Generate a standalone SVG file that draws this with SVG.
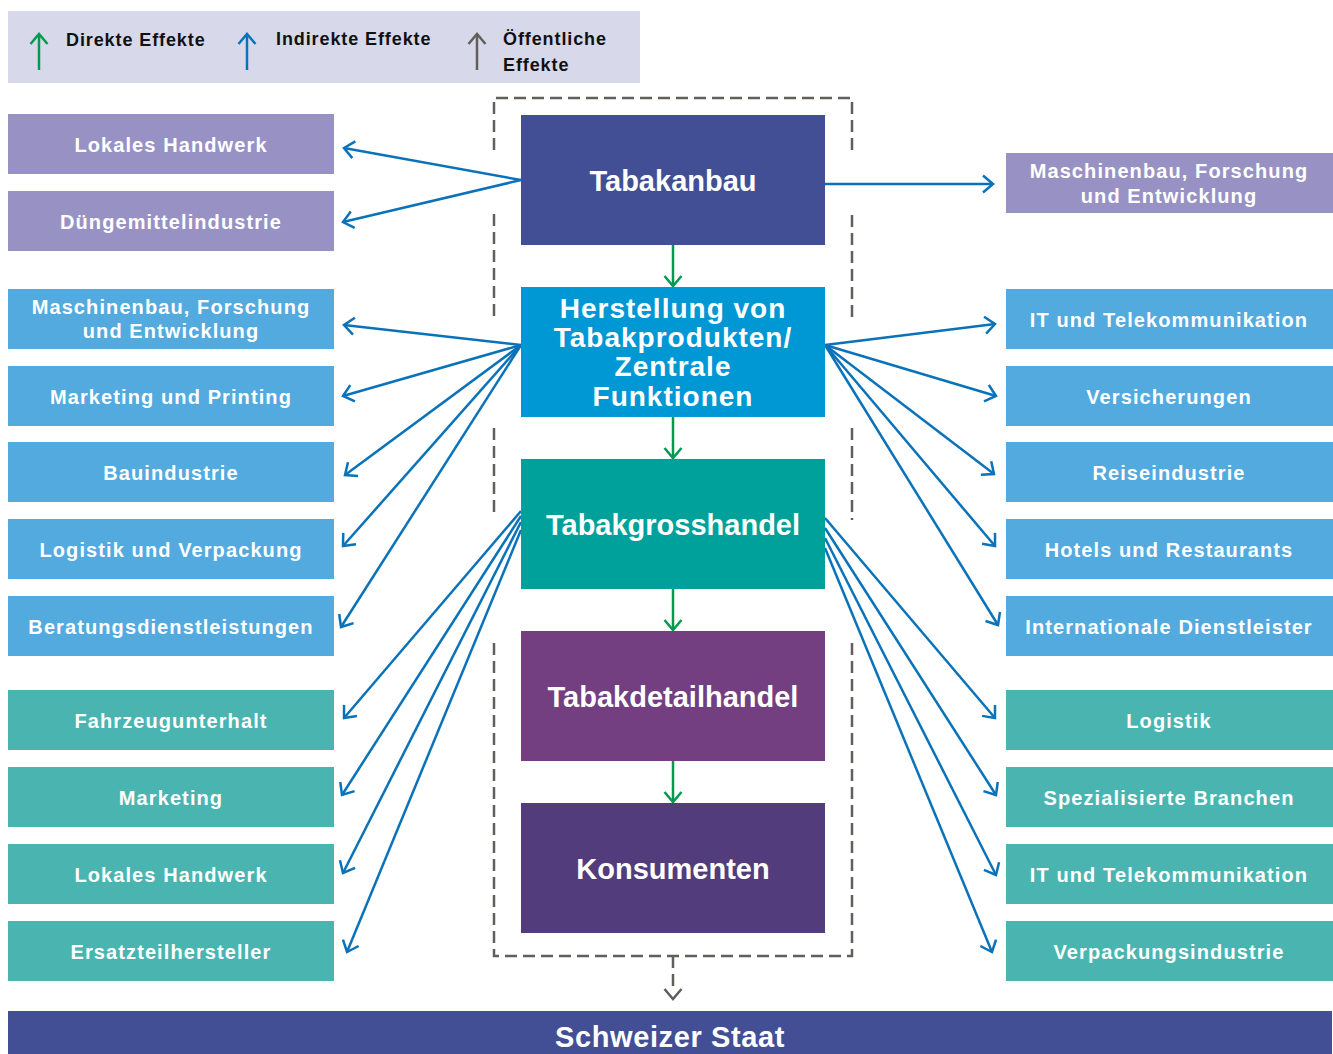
<svg xmlns="http://www.w3.org/2000/svg" width="1333" height="1054" viewBox="0 0 1333 1054">
<defs>
<style>
.side{font-family:"Liberation Sans",Arial,sans-serif;font-weight:bold;font-size:20px;letter-spacing:1.1px;fill:#fff;text-anchor:middle}
.main{font-family:"Liberation Sans",Arial,sans-serif;font-weight:bold;font-size:29px;fill:#fff;text-anchor:middle}
.leg{font-family:"Liberation Sans",Arial,sans-serif;font-weight:bold;font-size:18px;letter-spacing:0.9px;fill:#111}
.pu{fill:#9892c4}.bl{fill:#52aadf}.te{fill:#4ab5b0}
.ind{stroke:#0a72b9;stroke-width:2.5;fill:none;marker-end:url(#mb)}
.dir{stroke:#009b4f;stroke-width:2.5;fill:none;marker-end:url(#mg)}
.dash{stroke:#625f5a;stroke-width:2.5;fill:none;stroke-dasharray:12 6}
</style>
<marker id="mb" markerUnits="userSpaceOnUse" markerWidth="30" markerHeight="30" refX="0" refY="0" viewBox="-15 -15 30 30" orient="auto"><path d="M-10,-8.5 L0,0 L-10,8.5" fill="none" stroke="#0a72b9" stroke-width="2.5"/></marker>
<marker id="mg" markerUnits="userSpaceOnUse" markerWidth="30" markerHeight="30" refX="0" refY="0" viewBox="-15 -15 30 30" orient="auto"><path d="M-10,-8.5 L0,0 L-10,8.5" fill="none" stroke="#009b4f" stroke-width="2.5"/></marker>
<marker id="mk" markerUnits="userSpaceOnUse" markerWidth="30" markerHeight="30" refX="0" refY="0" viewBox="-15 -15 30 30" orient="auto"><path d="M-10,-8.5 L0,0 L-10,8.5" fill="none" stroke="#625f5a" stroke-width="2.5"/></marker>
</defs>
<rect width="1333" height="1054" fill="#fff"/>

<g id="legend">
<rect x="8" y="11" width="632" height="72" fill="#d7d9eb"/>
<path d="M39,70 V34" stroke="#009b4f" stroke-width="2.5" marker-end="url(#mg)"/>
<text class="leg" x="66" y="46">Direkte Effekte</text>
<path d="M247,70 V34" stroke="#0a72b9" stroke-width="2.5" marker-end="url(#mb)"/>
<text class="leg" x="276" y="45">Indirekte Effekte</text>
<path d="M477,70 V34" stroke="#625f5a" stroke-width="2.5" marker-end="url(#mk)"/>
<text class="leg" x="503" y="45">Öffentliche</text>
<text class="leg" x="503" y="71">Effekte</text>
</g>

<g id="boundary">
<path class="dash" d="M494,150 V98 H852 V150"/>
<path class="dash" d="M494,214 V322"/>
<path class="dash" d="M852,215 V320"/>
<path class="dash" d="M494,428 V512"/>
<path class="dash" d="M852,428 V520"/>
<path class="dash" d="M494,643 V956 H852 V643"/>
</g>

<g id="connectors">
<path class="ind" d="M521,180 L344,148"/>
<path class="ind" d="M521,180 L343,222"/>
<path class="ind" d="M825,184 L993,184"/>
<path class="ind" d="M521,345 L344,325"/>
<path class="ind" d="M521,345 L343,396"/>
<path class="ind" d="M521,345 L345,475"/>
<path class="ind" d="M521,345 L343,546"/>
<path class="ind" d="M521,345 L341,627"/>
<path class="ind" d="M825,345 L995,324"/>
<path class="ind" d="M825,345 L996,396"/>
<path class="ind" d="M825,345 L994,474"/>
<path class="ind" d="M825,345 L995,546"/>
<path class="ind" d="M825,345 L998,625"/>
<path class="ind" d="M521,511 L344,718"/>
<path class="ind" d="M521,516 L342,795"/>
<path class="ind" d="M521,522 L343,873"/>
<path class="ind" d="M521,530 L347,952"/>
<path class="ind" d="M825,518 L995,718"/>
<path class="ind" d="M825,528 L996,795"/>
<path class="ind" d="M825,538 L996,875"/>
<path class="ind" d="M825,548 L992,952"/>
<path class="dir" d="M673,245 V286"/>
<path class="dir" d="M673,417 V458"/>
<path class="dir" d="M673,589 V630"/>
<path class="dir" d="M673,761 V802"/>
<path class="dash" d="M673,956 V990"/>
<path d="M673,985 V999" stroke="none" fill="none" marker-end="url(#mk)"/>
</g>

<g id="n-tabakanbau"><rect x="521" y="115" width="304" height="130" fill="#434f95"/><text class="main" x="673" y="191">Tabakanbau</text></g>
<g id="n-herstellung"><rect x="521" y="287" width="304" height="130" fill="#0097d5"/>
<text class="main" x="673" style="font-size:28px;letter-spacing:1px"><tspan x="673" y="318">Herstellung von</tspan><tspan x="673" y="347">Tabakprodukten/</tspan><tspan x="673" y="376">Zentrale</tspan><tspan x="673" y="406">Funktionen</tspan></text></g>
<g id="n-grosshandel"><rect x="521" y="459" width="304" height="130" fill="#00a19a"/><text class="main" x="673" y="535">Tabakgrosshandel</text></g>
<g id="n-detailhandel"><rect x="521" y="631" width="304" height="130" fill="#733f80"/><text class="main" x="673" y="707">Tabakdetailhandel</text></g>
<g id="n-konsumenten"><rect x="521" y="803" width="304" height="130" fill="#523c7b"/><text class="main" x="673" y="879">Konsumenten</text></g>
<g id="n-staat"><rect x="8" y="1011" width="1324" height="43" fill="#434f95"/><text class="main" x="670" y="1047" style="letter-spacing:0.6px">Schweizer Staat</text></g>

<g id="l1"><rect class="pu" x="8" y="114" width="326" height="60"/><text class="side" x="171" y="152">Lokales Handwerk</text></g>
<g id="l2"><rect class="pu" x="8" y="191" width="326" height="60"/><text class="side" x="171" y="229">Düngemittelindustrie</text></g>
<g id="l3"><rect class="bl" x="8" y="289" width="326" height="60"/><text class="side" x="171" y="314">Maschinenbau, Forschung</text><text class="side" x="171" y="338">und Entwicklung</text></g>
<g id="l4"><rect class="bl" x="8" y="366" width="326" height="60"/><text class="side" x="171" y="404">Marketing und Printing</text></g>
<g id="l5"><rect class="bl" x="8" y="442" width="326" height="60"/><text class="side" x="171" y="480">Bauindustrie</text></g>
<g id="l6"><rect class="bl" x="8" y="519" width="326" height="60"/><text class="side" x="171" y="557">Logistik und Verpackung</text></g>
<g id="l7"><rect class="bl" x="8" y="596" width="326" height="60"/><text class="side" x="171" y="634">Beratungsdienstleistungen</text></g>
<g id="l8"><rect class="te" x="8" y="690" width="326" height="60"/><text class="side" x="171" y="728">Fahrzeugunterhalt</text></g>
<g id="l9"><rect class="te" x="8" y="767" width="326" height="60"/><text class="side" x="171" y="805">Marketing</text></g>
<g id="l10"><rect class="te" x="8" y="844" width="326" height="60"/><text class="side" x="171" y="882">Lokales Handwerk</text></g>
<g id="l11"><rect class="te" x="8" y="921" width="326" height="60"/><text class="side" x="171" y="959">Ersatzteilhersteller</text></g>

<g id="r1"><rect class="pu" x="1006" y="153" width="327" height="60"/><text class="side" x="1169" y="178">Maschinenbau, Forschung</text><text class="side" x="1169" y="203">und Entwicklung</text></g>
<g id="r2"><rect class="bl" x="1006" y="289" width="327" height="60"/><text class="side" x="1169" y="327">IT und Telekommunikation</text></g>
<g id="r3"><rect class="bl" x="1006" y="366" width="327" height="60"/><text class="side" x="1169" y="404">Versicherungen</text></g>
<g id="r4"><rect class="bl" x="1006" y="442" width="327" height="60"/><text class="side" x="1169" y="480">Reiseindustrie</text></g>
<g id="r5"><rect class="bl" x="1006" y="519" width="327" height="60"/><text class="side" x="1169" y="557">Hotels und Restaurants</text></g>
<g id="r6"><rect class="bl" x="1006" y="596" width="327" height="60"/><text class="side" x="1169" y="634">Internationale Dienstleister</text></g>
<g id="r7"><rect class="te" x="1006" y="690" width="327" height="60"/><text class="side" x="1169" y="728">Logistik</text></g>
<g id="r8"><rect class="te" x="1006" y="767" width="327" height="60"/><text class="side" x="1169" y="805">Spezialisierte Branchen</text></g>
<g id="r9"><rect class="te" x="1006" y="844" width="327" height="60"/><text class="side" x="1169" y="882">IT und Telekommunikation</text></g>
<g id="r10"><rect class="te" x="1006" y="921" width="327" height="60"/><text class="side" x="1169" y="959">Verpackungsindustrie</text></g>
</svg>
